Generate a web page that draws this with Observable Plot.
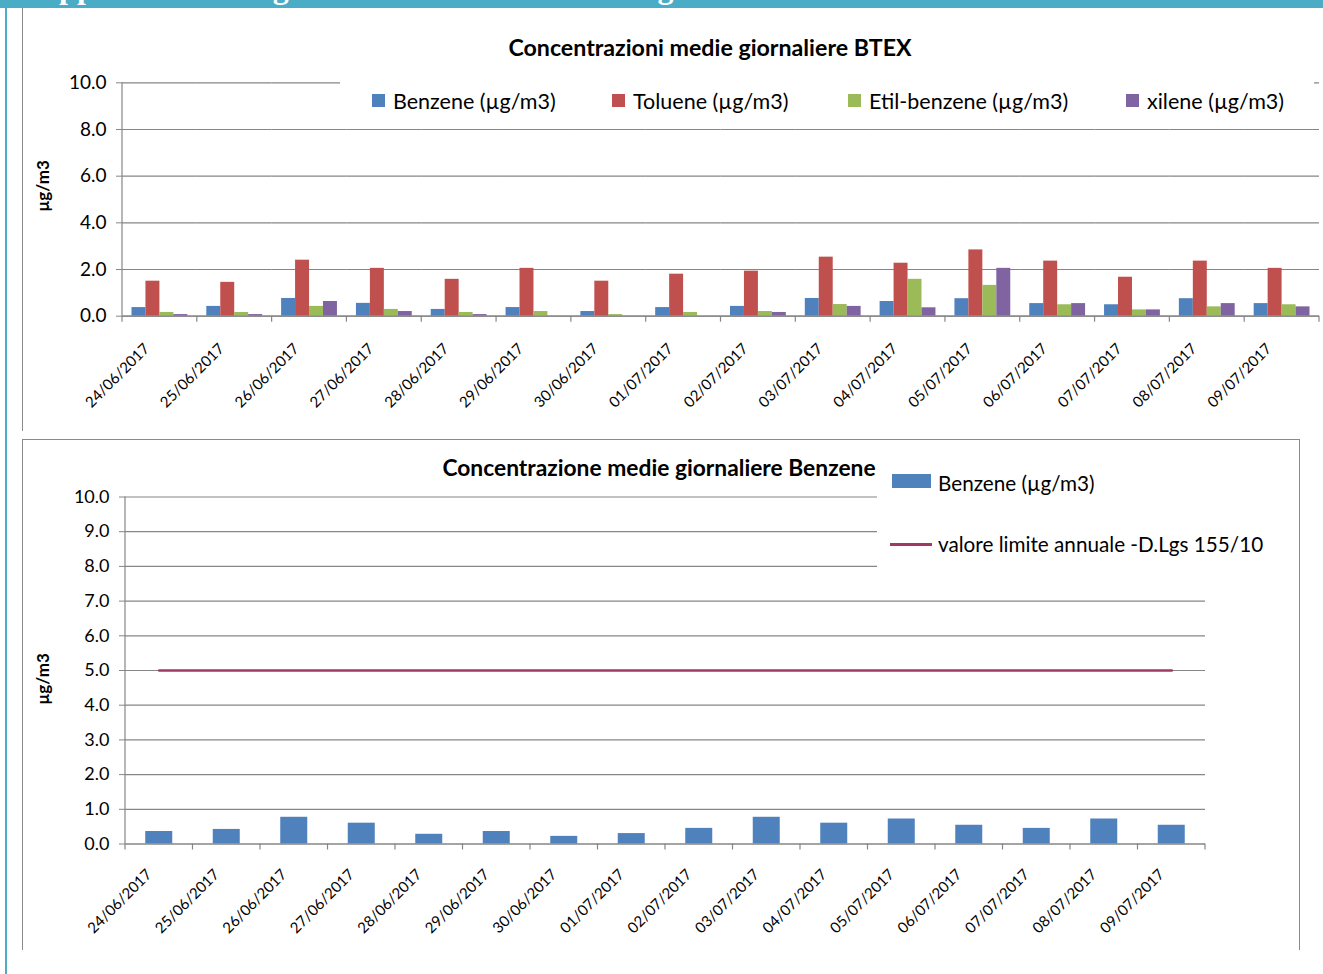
<!DOCTYPE html>
<html>
<head>
<meta charset="utf-8">
<script src="https://cdn.jsdelivr.net/npm/d3@7"></script>
<script src="https://cdn.jsdelivr.net/npm/@observablehq/plot@0.6"></script>
<style>
  html, body { margin: 0; padding: 0; background: #fff; }
  body { width: 1323px; height: 974px; position: relative; overflow: hidden; font-family: Lato, "Open Sans", sans-serif; color: #000; }
  .abs { position: absolute; }
  .title { font-weight: bold; white-space: nowrap; transform: translate(-50%, -50%); }
  .ylab { font-weight: bold; font-size: 17px; white-space: nowrap; transform: translate(-50%, -50%) rotate(-90deg); }
  .leg { white-space: nowrap; line-height: 1; }
  .sw { position: absolute; }
</style>
</head>
<body>
<div class="abs" style="left:0;top:0;width:1323px;height:8px;background:#4BACC6;overflow:hidden;">
  <div class="abs" id="header" style="left:20px;top:-29px;font-family:'Liberation Serif',serif;font-weight:bold;font-size:32px;line-height:32px;color:#fff;white-space:nowrap;"></div>
</div>
<div class="abs" style="left:5px;top:0;width:2px;height:974px;background:#4BACC6;"></div>
<div class="abs" style="left:22px;top:8px;width:0;height:423px;border-left:1.5px solid #8a8a8a;"></div>
<div class="abs" style="left:22px;top:439px;width:1276px;height:510px;border-left:1.5px solid #8a8a8a;border-top:1.5px solid #8a8a8a;border-right:1.5px solid #8a8a8a;"></div>

<div class="abs title" id="title1" style="left:710px;top:47px;font-size:23.2px;"></div>
<div class="abs ylab" id="ylab1" style="left:42px;top:186px;"></div>
<div class="abs" id="chart1" style="left:22px;top:60px;"></div>
<div class="abs" id="legend1" style="left:340px;top:80px;width:974px;height:44px;background:#fff;"></div>

<div class="abs title" id="title2" style="left:659px;top:467px;font-size:22.8px;"></div>
<div class="abs ylab" id="ylab2" style="left:42px;top:679px;"></div>
<div class="abs" id="chart2" style="left:22px;top:470px;"></div>
<div class="abs" id="legend2" style="left:877px;top:455px;width:419px;height:125px;background:#fff;"></div>

<script>
// ---------- data ----------
const headerText = "Rappresentazione grafica delle concentrazioni giornaliere di BTEX";
const title1 = "Concentrazioni medie giornaliere BTEX";
const title2 = "Concentrazione medie giornaliere Benzene";
const yLabel = "µg/m3";

const dates = ["24/06/2017","25/06/2017","26/06/2017","27/06/2017","28/06/2017","29/06/2017","30/06/2017","01/07/2017",
               "02/07/2017","03/07/2017","04/07/2017","05/07/2017","06/07/2017","07/07/2017","08/07/2017","09/07/2017"];

const seriesNames = ["Benzene (µg/m3)", "Toluene (µg/m3)", "Etil-benzene (µg/m3)", "xilene (µg/m3)"];
const seriesColors = ["#4F81BD", "#C0504D", "#9BBB59", "#8064A2"];

const benzene     = [0.37, 0.42, 0.76, 0.55, 0.29, 0.37, 0.20, 0.37, 0.42, 0.76, 0.63, 0.75, 0.54, 0.49, 0.75, 0.54];
const toluene     = [1.50, 1.45, 2.40, 2.05, 1.58, 2.05, 1.50, 1.80, 1.93, 2.53, 2.27, 2.84, 2.36, 1.67, 2.36, 2.05];
const etilbenzene = [0.16, 0.16, 0.42, 0.29, 0.16, 0.20, 0.07, 0.16, 0.20, 0.50, 1.58, 1.32, 0.49, 0.27, 0.40, 0.49];
const xilene      = [0.07, 0.07, 0.63, 0.20, 0.07, 0.00, 0.00, 0.00, 0.16, 0.42, 0.36, 2.05, 0.54, 0.27, 0.54, 0.40];

const benzeneDaily = [0.36, 0.42, 0.77, 0.60, 0.28, 0.36, 0.22, 0.30, 0.45, 0.77, 0.60, 0.72, 0.54, 0.45, 0.72, 0.54];
const limitName = "valore limite annuale -D.Lgs 155/10";
const limitValue = 5.0;
const limitColor = "#9E3A63";

const yTicks1 = [0, 2, 4, 6, 8, 10];
const yTicks2 = [0, 1, 2, 3, 4, 5, 6, 7, 8, 9, 10];

// ---------- text ----------
document.getElementById("header").textContent = headerText;
document.getElementById("title1").textContent = title1;
document.getElementById("title2").textContent = title2;
document.getElementById("ylab1").textContent = yLabel;
document.getElementById("ylab2").textContent = yLabel;

const gridColor = "#868686";
const baseStyle = {background: "transparent", fontFamily: "Lato, sans-serif", color: "#000", overflow: "visible", maxWidth: "none"};

// boundary ticks (Excel style: between categories) + y axis line, from the plot's scales
function boundaryTicks(svg, name, domain, tickLen) {
  const s = svg.scale(name), y = svg.scale("y");
  const step = s.step != null ? s.step : s.bandwidth;
  const xs = domain.map(d => s.apply(d) + s.bandwidth / 2 - step / 2);
  xs.push(xs[xs.length - 1] + step);
  const y0 = y.apply(0), y10 = y.apply(10);
  const g = d3.select(svg).append("g").attr("stroke", gridColor).attr("stroke-width", 1.2);
  g.selectAll("line.bt").data(xs).join("line").attr("class", "bt")
    .attr("x1", d => d).attr("x2", d => d).attr("y1", y0).attr("y2", y0 + tickLen);
  g.append("line").attr("x1", xs[0]).attr("x2", xs[0]).attr("y1", y10).attr("y2", y0);
}

// ---------- chart 1 ----------
const seriesValues = [benzene, toluene, etilbenzene, xilene];
const table = dates.flatMap((d, i) => seriesNames.map((s, j) => ({date: d, series: s, value: seriesValues[j][i]})));

const chart1 = Plot.plot({
  width: 1301, height: 370,
  marginLeft: 100, marginRight: 4, marginTop: 22.3, marginBottom: 114.3,
  style: baseStyle,
  fx: {domain: dates, padding: 0, round: false, label: null, axis: null},
  x: {domain: seriesNames, paddingInner: 0, paddingOuter: 0.68, round: false, axis: null},
  y: {domain: [0, 10], axis: null},
  color: {domain: seriesNames, range: seriesColors},
  marks: [
    Plot.gridY(yTicks1, {stroke: gridColor, strokeOpacity: 1, strokeWidth: 1.2}),
    Plot.barY(table, {fx: "date", x: "series", y: "value", fill: "series"}),
    Plot.ruleY([0], {stroke: gridColor, strokeWidth: 1.2}),
    Plot.axisY(yTicks1, {tickFormat: d => d.toFixed(1), tickSize: 6, tickPadding: 10, stroke: gridColor, fill: "#000", fontSize: 19, label: null}),
    Plot.axisFx({anchor: "bottom", tickSize: 0, tickRotate: -45, tickPadding: 30, dx: -13, fontSize: 15, fill: "#000", label: null})
  ]
});
document.getElementById("chart1").appendChild(chart1);
boundaryTicks(chart1, "fx", dates, 6);

// legend 1
const leg1Pos = [32, 272, 508, 786];
const leg1 = d3.select("#legend1");
seriesNames.forEach((s, i) => {
  leg1.append("div").attr("class", "sw")
    .style("left", leg1Pos[i] + "px").style("top", "14px").style("width", "13px").style("height", "13px")
    .style("background", seriesColors[i]);
  leg1.append("div").attr("class", "abs leg")
    .style("left", (leg1Pos[i] + 21) + "px").style("top", "11px").style("font-size", "21.5px").text(s);
});

// ---------- chart 2 ----------
const chart2 = Plot.plot({
  width: 1277, height: 470,
  marginLeft: 103, marginRight: 94, marginTop: 26.5, marginBottom: 96.5,
  style: baseStyle,
  x: {domain: dates, paddingInner: 0.6, paddingOuter: 0.3, round: false, axis: null},
  y: {domain: [0, 10], axis: null},
  marks: [
    Plot.gridY(yTicks2, {stroke: gridColor, strokeOpacity: 1, strokeWidth: 1.2}),
    Plot.barY(dates, {x: d => d, y: (d, i) => benzeneDaily[i], fill: seriesColors[0]}),
    Plot.ruleY([0], {stroke: gridColor, strokeWidth: 1.2}),
    Plot.lineY(dates, {x: d => d, y: () => limitValue, stroke: limitColor, strokeWidth: 2.6}),
    Plot.axisY(yTicks2, {tickFormat: d => d.toFixed(1), tickSize: 6, tickPadding: 10, stroke: gridColor, fill: "#000", fontSize: 18, label: null}),
    Plot.axisX({tickSize: 0, tickRotate: -45, tickPadding: 28, dx: -10, fontSize: 15, fill: "#000", label: null})
  ]
});
document.getElementById("chart2").appendChild(chart2);
boundaryTicks(chart2, "x", dates, 6);

// legend 2
const leg2 = d3.select("#legend2");
leg2.append("div").attr("class", "sw")
  .style("left", "15px").style("top", "19px").style("width", "39px").style("height", "14px")
  .style("background", seriesColors[0]);
leg2.append("div").attr("class", "abs leg").style("left", "61px").style("top", "18px").style("font-size", "20.7px").text(seriesNames[0]);
leg2.append("div").attr("class", "sw")
  .style("left", "13px").style("top", "88px").style("width", "42px").style("height", "3px")
  .style("background", limitColor);
leg2.append("div").attr("class", "abs leg").style("left", "61px").style("top", "79px").style("font-size", "20.7px").text(limitName);
</script>
</body>
</html>
